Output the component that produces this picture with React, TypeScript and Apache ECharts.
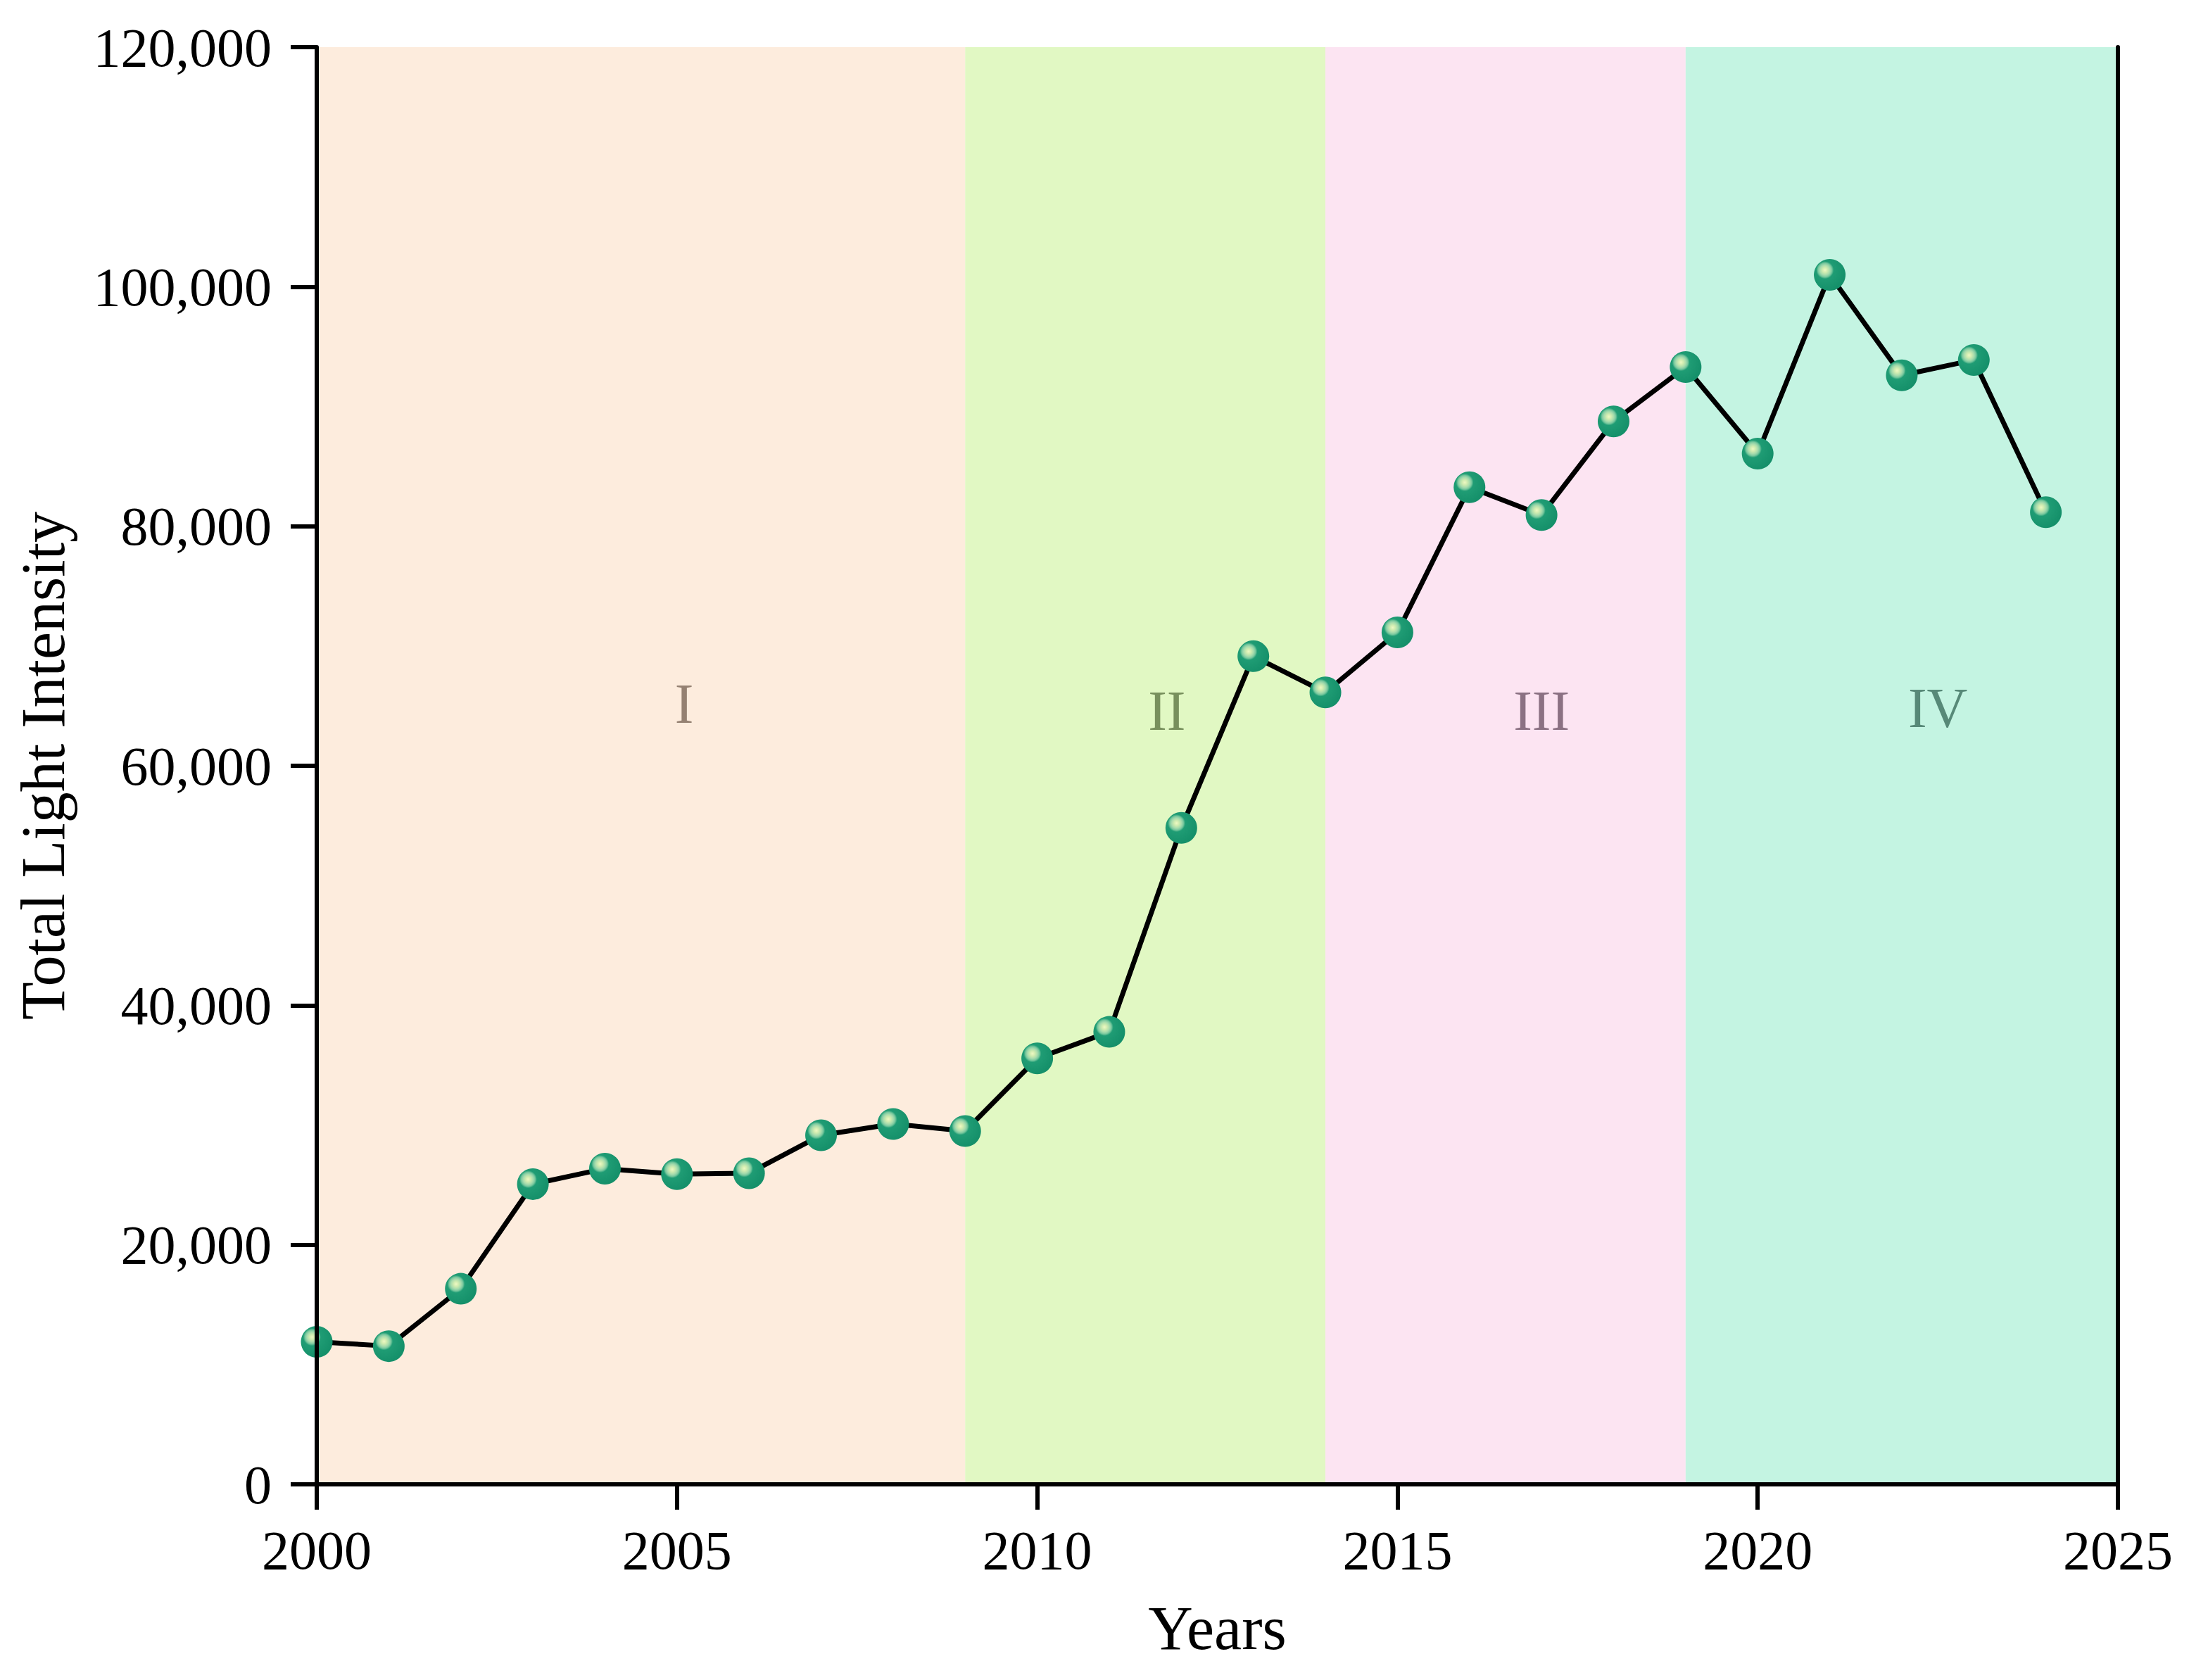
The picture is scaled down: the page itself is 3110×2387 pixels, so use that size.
import React, { useEffect, useRef } from "react";
import * as echarts from "echarts";

const years = [
  2000, 2001, 2002, 2003, 2004, 2005, 2006, 2007, 2008, 2009, 2010, 2011, 2012,
  2013, 2014, 2015, 2016, 2017, 2018, 2019, 2020, 2021, 2022, 2023, 2024,
];
const intensity = [
  11900, 11540, 16330, 25070, 26360, 25900, 25980, 29150, 30090, 29500, 35570,
  37780, 54810, 69150, 66120, 71140, 83260, 80930, 88750, 93290, 86060, 100990,
  92600, 93880, 81170,
];

const phaseNames = ["I", "II", "III", "IV"];
const phaseStart = [2000, 2009, 2014, 2019];
const phaseEnd = [2009, 2014, 2019, 2025];
const phaseLabelX = [2005.1, 2011.8, 2017.0, 2022.5];
const phaseLabelY = [65200, 64600, 64600, 64800];

const xMin = 2000;
const xMax = 2025;
const xInterval = 5;
const yMin = 0;
const yMax = 120000;
const yInterval = 20000;

const bandColors = ["#FDECDD", "#E1F8C3", "#FCE4F2", "#C4F4E2"];
const phaseTextColors = ["#7b6657", "#5e7644", "#6e5467", "#3c6e5e"];

const FONT = "'Liberation Serif', 'Times New Roman', serif";

export default function App() {
  const ref = useRef<HTMLDivElement>(null);

  useEffect(() => {
    document.body.style.margin = "0";
    if (!ref.current) return;
    const chart = echarts.init(ref.current, null, { renderer: "svg" });

    const axisLine = { show: true, lineStyle: { color: "#000", width: 6 } };

    const option: any = {
      animation: false,
      backgroundColor: "#ffffff",
      grid: {
        left: 450,
        top: 67,
        right: 101,
        bottom: 278,
        containLabel: false,
        outerBoundsMode: "none",
      },
      xAxis: [
        {
          type: "value",
          min: xMin,
          max: xMax,
          interval: xInterval,
          z: 10,
          axisLine,
          axisTick: {
            show: true,
            inside: false,
            length: 36,
            lineStyle: { color: "#000", width: 6 },
          },
          axisLabel: {
            show: true,
            margin: 54,
            fontFamily: FONT,
            fontSize: 78,
            color: "#000",
            formatter: (v: number) => String(v),
          },
          splitLine: { show: false },
          name: "Years",
          nameLocation: "middle",
          nameGap: 160,
          nameTextStyle: { fontFamily: FONT, fontSize: 88, color: "#000" },
        },
        {
          type: "value",
          position: "top",
          min: xMin,
          max: xMax,
          interval: xInterval,
          z: 10,
          axisLine,
          axisTick: { show: false },
          axisLabel: { show: false },
          splitLine: { show: false },
        },
      ],
      yAxis: [
        {
          type: "value",
          min: yMin,
          max: yMax,
          interval: yInterval,
          z: 10,
          axisLine,
          axisTick: {
            show: true,
            inside: false,
            length: 37,
            lineStyle: { color: "#000", width: 6 },
          },
          axisLabel: {
            show: true,
            margin: 64,
            fontFamily: FONT,
            fontSize: 78,
            color: "#000",
            formatter: (v: number) => v.toLocaleString("en-US"),
          },
          splitLine: { show: false },
          name: "Total Light Intensity",
          nameLocation: "middle",
          nameGap: 345,
          nameTextStyle: { fontFamily: FONT, fontSize: 88, color: "#000" },
        },
        {
          type: "value",
          position: "right",
          min: yMin,
          max: yMax,
          interval: yInterval,
          z: 10,
          axisLine,
          axisTick: { show: false },
          axisLabel: { show: false },
          splitLine: { show: false },
        },
      ],
      series: [
        {
          type: "line",
          z: 1,
          silent: true,
          data: [],
          markArea: {
            silent: true,
            data: phaseNames.map((_, i) => [
              { xAxis: phaseStart[i], itemStyle: { color: bandColors[i], opacity: 1 } },
              { xAxis: phaseEnd[i] },
            ]),
          },
        },
        {
          type: "scatter",
          z: 2,
          silent: true,
          symbolSize: 0,
          data: phaseNames.map((n, i) => ({
            name: n,
            value: [phaseLabelX[i], phaseLabelY[i]],
            label: { color: phaseTextColors[i] },
          })),
          label: {
            show: true,
            position: "inside",
            formatter: (p: any) => p.name,
            fontFamily: FONT,
            fontSize: 80,
          },
        },
        {
          type: "line",
          z: 5,
          silent: true,
          data: years.map((y, i) => [y, intensity[i]]),
          symbol: "circle",
          symbolSize: 45,
          showAllSymbol: true,
          lineStyle: { color: "#000", width: 7 },
          itemStyle: {
            color: {
              type: "radial",
              x: 0.35,
              y: 0.35,
              r: 0.66,
              colorStops: [
                { offset: 0, color: "#eef8c4" },
                { offset: 0.12, color: "#d0ecb0" },
                { offset: 0.24, color: "#a6dbad" },
                { offset: 0.33, color: "#78c89e" },
                { offset: 0.42, color: "#1f9c74" },
                { offset: 1, color: "#15906a" },
              ],
            },
            borderWidth: 0,
          },
        },
      ],
    };

    chart.setOption(option);
    return () => {
      chart.dispose();
    };
  }, []);

  return <div ref={ref} style={{ width: 3110, height: 2387 }} />;
}
